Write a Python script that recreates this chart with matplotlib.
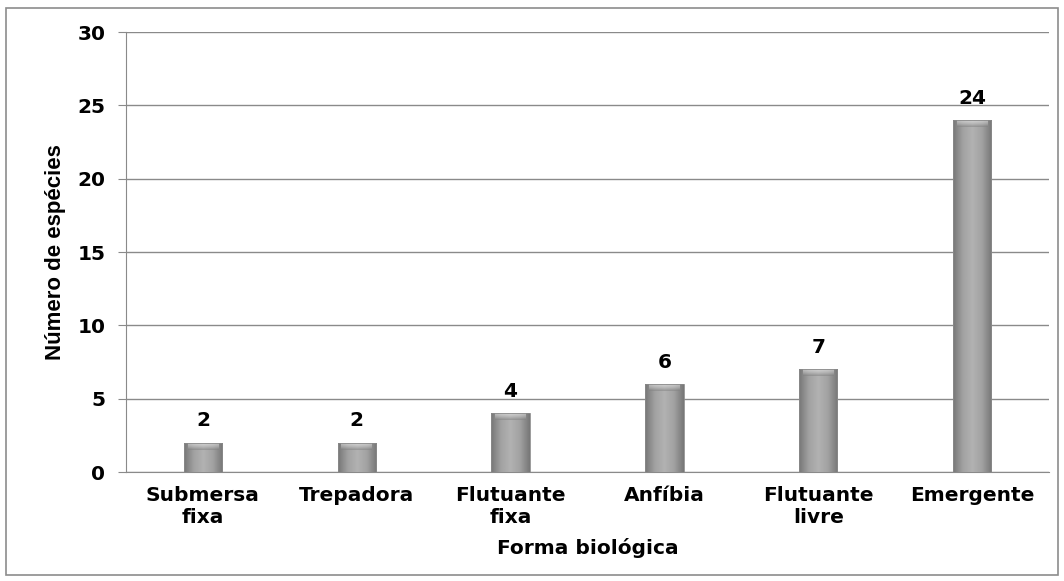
import numpy as np
import matplotlib
matplotlib.use("Agg")
import matplotlib.pyplot as plt
from matplotlib.patches import Rectangle
from matplotlib.colors import LinearSegmentedColormap

plt.rcParams["font.family"] = ["DejaVu Sans"]

categories = ["Submersa\nfixa", "Trepadora", "Flutuante\nfixa", "Anfíbia", "Flutuante\nlivre", "Emergente"]
values = [2, 2, 4, 6, 7, 24]
yticks = [0, 5, 10, 15, 20, 25, 30]

FS = 14.5

fig = plt.figure(figsize=(10.64, 5.81), dpi=100)
ax = fig.add_axes([0.1184, 0.1876, 0.8675, 0.7573])

# outer frame around the chart
fig.patches.append(Rectangle((0.006, 0.01), 0.988, 0.976, transform=fig.transFigure,
                             fill=False, edgecolor="#8c8c8c", linewidth=1.2))

ax.set_xlim(-0.5, len(values) - 0.5)
ax.set_ylim(0, 30)
ax.set_yticks(yticks)
ax.yaxis.grid(True, color="#8a8a8a", linewidth=1)
ax.set_axisbelow(True)
for s in ("top", "right"):
    ax.spines[s].set_visible(False)
ax.spines["left"].set_color("#8a8a8a")
ax.spines["bottom"].set_color("#8a8a8a")
ax.tick_params(axis="y", length=5.8, color="#8a8a8a", labelsize=FS, pad=9)
ax.tick_params(axis="x", length=0, labelsize=FS, pad=10)
for lab in ax.get_yticklabels():
    lab.set_fontweight("bold")

x = np.arange(len(values))
ax.set_xticks(x)
ax.set_xticklabels(categories, fontweight="bold", linespacing=1.2)

width = 0.25
shade = LinearSegmentedColormap.from_list(
    "bar", ["#777777", "#a2a2a2", "#b2b2b2", "#a2a2a2", "#777777"])
grad = np.linspace(0, 1, 64)[None, :]

# bevel height in data units (about 7 px)
px_per_unit = ax.get_window_extent().height / 30.0
bevel = 7.0 / px_per_unit

bars = ax.bar(x, values, width=width, color="none", edgecolor="none", zorder=3)
for b, v in zip(bars, values):
    x0, w = b.get_x(), b.get_width()
    im = ax.imshow(grad, cmap=shade, aspect="auto", extent=(x0, x0 + w, 0, v),
                   zorder=3, interpolation="bicubic")
    im.set_clip_path(b)
    ax.imshow(np.linspace(0.9, 0.4, 16)[:, None] * np.ones((1, 64)),
              cmap="Greys_r", vmin=0, vmax=1, aspect="auto",
              extent=(x0 + w * 0.1, x0 + w * 0.9, v - bevel, v),
              zorder=4, alpha=0.5, interpolation="bicubic")
    ax.add_patch(Rectangle((x0, 0), w, v, fill=False, edgecolor="#8a8a8a",
                           linewidth=0.6, zorder=5))
    ax.annotate(str(v), (b.get_x() + w / 2, v), xytext=(0, 9), textcoords="offset points",
                ha="center", va="bottom", fontsize=FS, fontweight="bold", zorder=6)

ax.set_xlim(-0.5, len(values) - 0.5)
ax.set_ylim(0, 30)

ax.set_xlabel("Forma biológica", fontsize=FS, fontweight="bold", labelpad=8)
ax.set_ylabel("Número de espécies", fontsize=16, fontweight="bold",
              family=["Liberation Sans Narrow", "Liberation Sans", "DejaVu Sans"], labelpad=8)

fig.savefig("out.png", dpi=100)
